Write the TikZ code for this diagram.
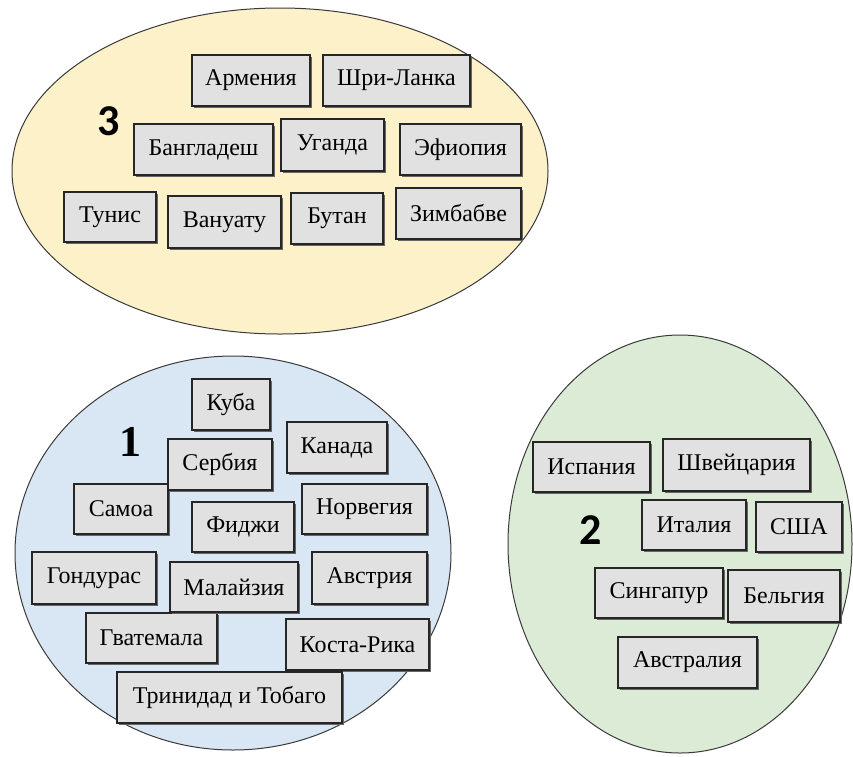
\documentclass[tikz,border=0pt]{standalone}
\usepackage{fontspec}
\setmainfont{Liberation Serif}
\newfontfamily\numsans{Carlito}
\usetikzlibrary{shadows}
\definecolor{ylw}{HTML}{FDF1CA}
\definecolor{blu}{HTML}{D8E7F3}
\definecolor{grn}{HTML}{DCEBD6}
\definecolor{boxg}{HTML}{E1E1E1}
\definecolor{edge}{HTML}{3A3A3A}
\tikzset{
  grp/.style={draw=edge, line width=1pt},
  cbox/.style={draw=black!85, line width=1.3pt, fill=boxg, inner sep=0pt,
    font=\fontsize{24}{26}\selectfont,
    drop shadow={shadow xshift=1.8pt, shadow yshift=-1.8pt, fill=black!60, opacity=1}},
  numlbl/.style={inner sep=0pt, font=\fontsize{44}{46}\selectfont\bfseries}
}
\begin{document}
\begin{tikzpicture}[x=1pt,y=-1pt]
\useasboundingbox (0,0) rectangle (853,756);
% group ellipses
\path[grp, fill=ylw] (280,171) ellipse [x radius=268, y radius=163];
\path[grp, fill=blu] (233,553) ellipse [x radius=218, y radius=197];
\path[grp, fill=grn] (680,544) ellipse [x radius=172, y radius=209];
% group 3
\node[numlbl, font=\fontsize{44}{46}\selectfont\bfseries\numsans] (n3) at (109,121) {3};
\node[cbox, minimum width=118pt, minimum height=51pt] (arm) at (251,80.5) {Армения};
\node[cbox, minimum width=147pt, minimum height=51pt] (sri) at (396.5,80.5) {Шри-Ланка};
\node[cbox, minimum width=139pt, minimum height=51pt] (ban) at (203.5,149.5) {Бангладеш};
\node[cbox, minimum width=103pt, minimum height=52pt] (uga) at (332.5,145) {Уганда};
\node[cbox, minimum width=121pt, minimum height=51pt] (eth) at (460.5,149.5) {Эфиопия};
\node[cbox, minimum width=92pt, minimum height=50pt] (tun) at (110,217) {Тунис};
\node[cbox, minimum width=113pt, minimum height=52pt] (van) at (224.5,222) {Вануату};
\node[cbox, minimum width=92pt, minimum height=51pt] (but) at (337,218.5) {Бутан};
\node[cbox, minimum width=125pt, minimum height=51pt] (zim) at (458.5,213.5) {Зимбабве};
% group 1
\node[numlbl] (n1) at (130,442) {1};
\node[cbox, minimum width=78pt, minimum height=51pt] (kub) at (231,404.5) {Куба};
\node[cbox, minimum width=100pt, minimum height=51pt] (kan) at (337,447.5) {Канада};
\node[cbox, minimum width=94pt, minimum height=50pt] (sam) at (121,509) {Самоа};
\node[cbox, minimum width=104pt, minimum height=51pt] (ser) at (220,464.5) {Сербия};
\node[cbox, minimum width=102pt, minimum height=50pt] (fij) at (243,527) {Фиджи};
\node[cbox, minimum width=125pt, minimum height=50pt] (nor) at (364.5,509) {Норвегия};
\node[cbox, minimum width=124pt, minimum height=52pt] (hon) at (94,578) {Гондурас};
\node[cbox, minimum width=115pt, minimum height=52pt] (aut) at (369.5,578) {Австрия};
\node[cbox, minimum width=131pt, minimum height=50pt] (gua) at (151.5,638) {Гватемала};
\node[cbox, minimum width=128pt, minimum height=50pt] (mal) at (234,587) {Малайзия};
\node[cbox, minimum width=143pt, minimum height=51pt] (cos) at (357.5,644.5) {Коста-Рика};
\node[cbox, minimum width=225pt, minimum height=51pt] (tri) at (229.5,697.5) {Тринидад и Тобаго};
% group 2
\node[numlbl, font=\fontsize{44}{46}\selectfont\bfseries\numsans] (n2) at (591,530) {2};
\node[cbox, minimum width=117pt, minimum height=50pt] (isp) at (591.5,467) {Испания};
\node[cbox, minimum width=147pt, minimum height=52pt] (swi) at (736.5,465) {Швейцария};
\node[cbox, minimum width=104pt, minimum height=50pt] (ita) at (694,525) {Италия};
\node[cbox, minimum width=86pt, minimum height=50pt] (usa) at (799,527) {США};
\node[cbox, minimum width=128pt, minimum height=50pt] (sin) at (659,593) {Сингапур};
\node[cbox, minimum width=112pt, minimum height=52pt] (bel) at (784,596) {Бельгия};
\node[cbox, minimum width=139pt, minimum height=51pt] (aus) at (687.5,662.5) {Австралия};
\end{tikzpicture}
\end{document}
